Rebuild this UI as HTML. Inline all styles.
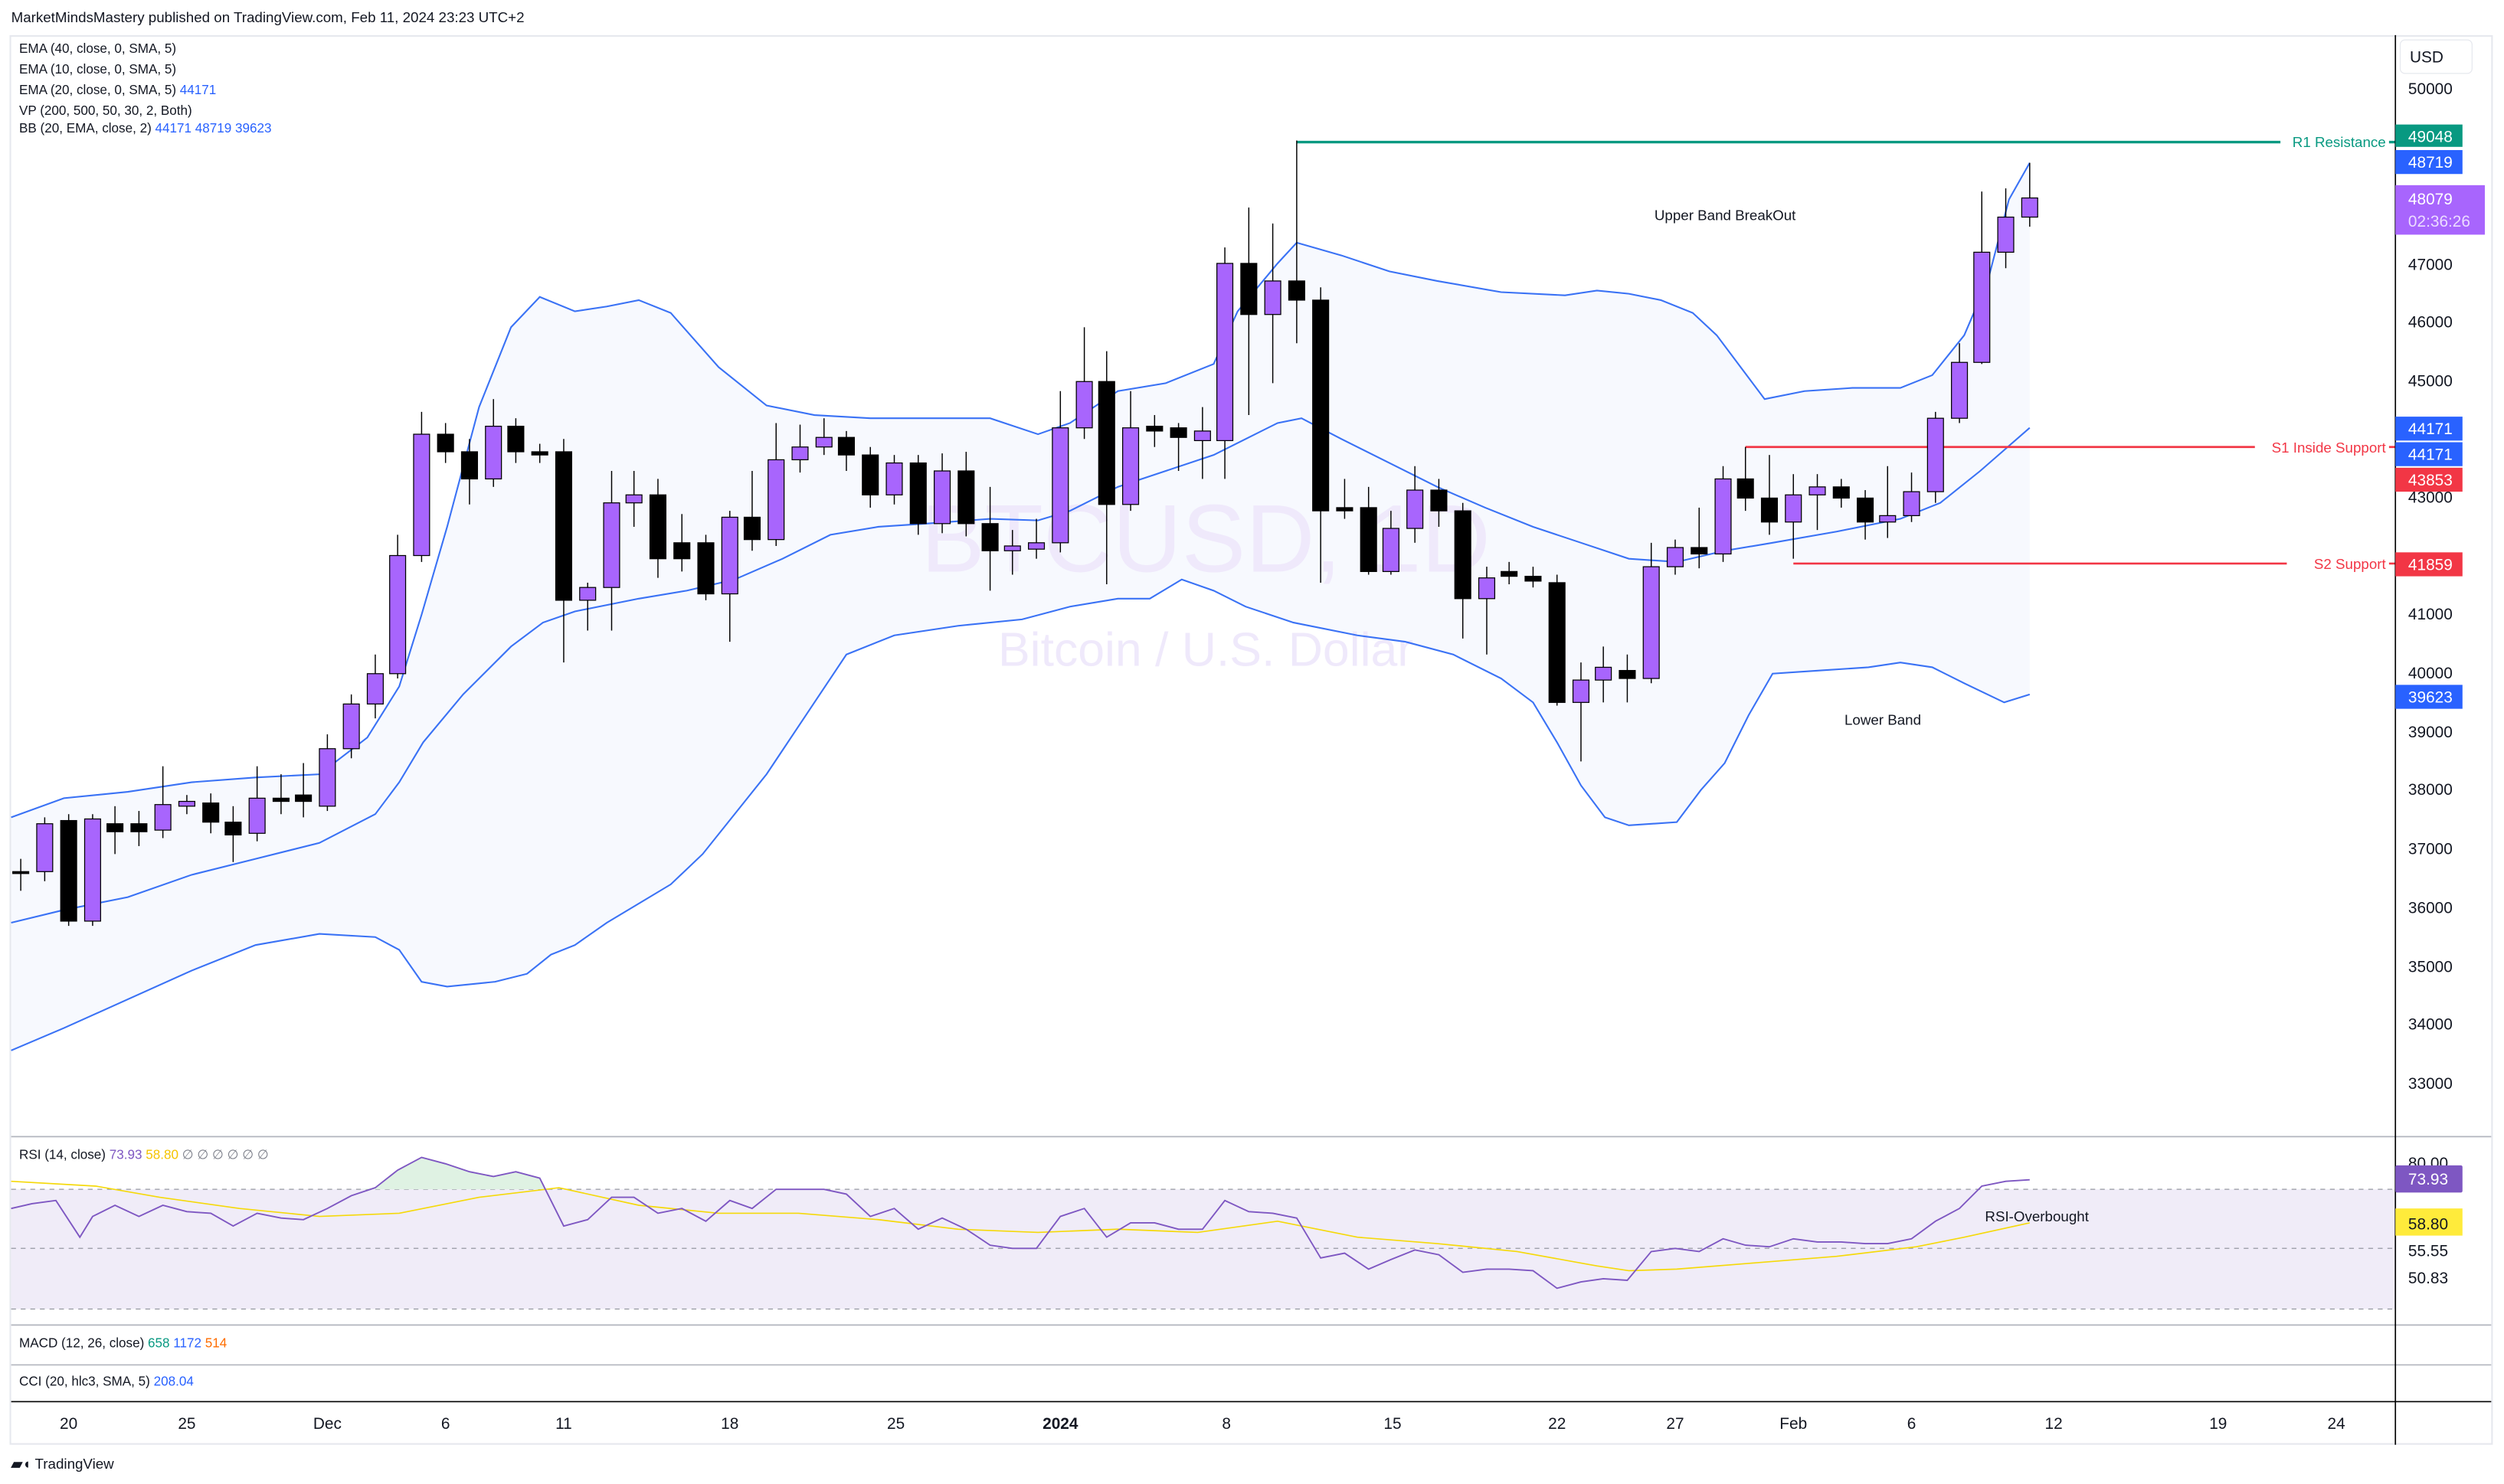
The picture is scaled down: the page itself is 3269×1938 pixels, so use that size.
<!DOCTYPE html>
<html><head><meta charset="utf-8"><style>
html,body{margin:0;padding:0;background:#fff;}
svg{display:block;}
text{font-family:"Liberation Sans",sans-serif;}
</style></head><body>
<svg id="s" width="3269" height="1938" viewBox="0 0 1568 929.6" preserveAspectRatio="none" xmlns="http://www.w3.org/2000/svg">
<rect width="1568" height="929.6" fill="#fff"/>
<text x="7" y="14" font-size="9" fill="#131722">MarketMindsMastery published on TradingView.com, Feb 11, 2024 23:23 UTC+2</text>
<rect x="6.5" y="22.5" width="1554" height="882" fill="#fff" stroke="#e6e8ee" stroke-width="1"/>
<path id="bandfill" fill="#f7f9fe"/>
<text x="755" y="358" font-size="60" fill="#efe9fb" text-anchor="middle">BTCUSD, 1D</text>
<text x="755" y="417" font-size="30" fill="#efe9fb" text-anchor="middle">Bitcoin / U.S. Dollar</text>
<g id="bands" fill="none" stroke="#3a72f5" stroke-width="1"></g>
<line x1="812" y1="89" x2="1500" y2="89" stroke="#089981" stroke-width="1.6"/>
<line x1="1093" y1="280" x2="1500" y2="280" stroke="#f23645" stroke-width="1.3"/>
<line x1="1123" y1="353" x2="1500" y2="353" stroke="#f23645" stroke-width="1.3"/>
<rect x="1428" y="83" width="68" height="12" fill="#fff"/>
<text x="1494" y="92" font-size="9" fill="#089981" text-anchor="end">R1 Resistance</text>
<rect x="1412" y="274" width="84" height="12" fill="#fff"/>
<text x="1494" y="283.5" font-size="9" fill="#f23645" text-anchor="end">S1 Inside Support</text>
<rect x="1432" y="347" width="64" height="12" fill="#fff"/>
<text x="1494" y="356.5" font-size="9" fill="#f23645" text-anchor="end">S2 Support</text>
<g id="candles"></g>
<text x="1036" y="138" font-size="9" fill="#131722">Upper Band BreakOut</text>
<text x="1155" y="454" font-size="9" fill="#131722">Lower Band</text>
<g font-size="8.2" fill="#131722">
<text x="12" y="33">EMA (40, close, 0, SMA, 5)</text>
<text x="12" y="46">EMA (10, close, 0, SMA, 5)</text>
<text x="12" y="59">EMA (20, close, 0, SMA, 5) <tspan fill="#2962ff">44171</tspan></text>
<text x="12" y="72">VP (200, 500, 50, 30, 2, Both)</text>
<text x="12" y="83">BB (20, EMA, close, 2) <tspan fill="#2962ff">44171 48719 39623</tspan></text>
</g>
<line x1="7" y1="712" x2="1560" y2="712" stroke="#b2b5be" stroke-width="0.8"/>
<rect x="7" y="745" width="1493" height="75" fill="#f0ecf8"/>
<line x1="7" y1="745" x2="1500" y2="745" stroke="#9598a1" stroke-width="0.6" stroke-dasharray="3,3"/>
<line x1="7" y1="782" x2="1500" y2="782" stroke="#9598a1" stroke-width="0.6" stroke-dasharray="3,3"/>
<line x1="7" y1="820" x2="1500" y2="820" stroke="#9598a1" stroke-width="0.6" stroke-dasharray="3,3"/>
<path d="M225,745 L235,744 249,733 264,725 279,729 294,734 309,737 323,734 338,738 342,745 Z" fill="#dff2e3"/>
<polyline id="rsima" fill="none" stroke="#f5d90a" stroke-width="0.8"/>
<polyline id="rsi" fill="none" stroke="#7e57c2" stroke-width="0.9"/>
<text x="1243" y="765" font-size="9" fill="#131722">RSI-Overbought</text>
<text x="12" y="726" font-size="8.2" fill="#131722">RSI (14, close) <tspan fill="#7e57c2">73.93</tspan> <tspan fill="#f5c400">58.80</tspan> <tspan fill="#787b86">∅ ∅ ∅ ∅ ∅ ∅</tspan></text>
<line x1="7" y1="830" x2="1560" y2="830" stroke="#b2b5be" stroke-width="0.8"/>
<text x="12" y="844" font-size="8.2" fill="#131722">MACD (12, 26, close) <tspan fill="#089981">658</tspan> <tspan fill="#2962ff">1172</tspan> <tspan fill="#ff6d00">514</tspan></text>
<line x1="7" y1="855" x2="1560" y2="855" stroke="#b2b5be" stroke-width="0.8"/>
<text x="12" y="868" font-size="8.2" fill="#131722">CCI (20, hlc3, SMA, 5) <tspan fill="#2962ff">208.04</tspan></text>
<line x1="7" y1="878" x2="1560" y2="878" stroke="#000" stroke-width="0.8"/>
<line x1="1500" y1="22" x2="1500" y2="905" stroke="#000" stroke-width="0.8"/>
<g font-size="10" fill="#131722" text-anchor="middle">
<text x="43" y="895">20</text><text x="117" y="895">25</text><text x="205" y="895">Dec</text><text x="279" y="895">6</text><text x="353" y="895">11</text><text x="457" y="895">18</text><text x="561" y="895">25</text><text x="664" y="895" font-weight="bold">2024</text><text x="768" y="895">8</text><text x="872" y="895">15</text><text x="975" y="895">22</text><text x="1049" y="895">27</text><text x="1123" y="895">Feb</text><text x="1197" y="895">6</text><text x="1286" y="895">12</text><text x="1389" y="895">19</text><text x="1463" y="895">24</text>
</g>
<rect x="1503" y="25" width="45" height="21" rx="3" fill="#fff" stroke="#e6e8ee" stroke-width="0.6"/>
<text x="1509" y="39" font-size="10" fill="#131722">USD</text>
<g font-size="10" fill="#131722">
<text x="1508" y="59">50000</text><text x="1508" y="169">47000</text><text x="1508" y="205">46000</text><text x="1508" y="242">45000</text><text x="1508" y="388">41000</text><text x="1508" y="425">40000</text><text x="1508" y="462">39000</text><text x="1508" y="498">38000</text><text x="1508" y="535">37000</text><text x="1508" y="572">36000</text><text x="1508" y="609">35000</text><text x="1508" y="645">34000</text><text x="1508" y="682">33000</text><text x="1508" y="315">43000</text>
<text x="1508" y="732">80.00</text><text x="1508" y="787">55.55</text><text x="1508" y="804">50.83</text>
</g>
<g font-size="10" fill="#fff">
<rect x="1500" y="78" width="42" height="14" fill="#089981"/><text x="1508" y="89">49048</text>
<rect x="1500" y="94" width="42" height="15" fill="#2962ff"/><text x="1508" y="105">48719</text>
<rect x="1500" y="116" width="56" height="31" fill="#a865fd"/><text x="1508" y="128">48079</text><text x="1508" y="142" fill="#ecdcff">02:36:26</text>
<rect x="1500" y="261" width="42" height="15" fill="#2962ff"/><text x="1508" y="272">44171</text>
<rect x="1500" y="277" width="42" height="15" fill="#2962ff"/><text x="1508" y="288">44171</text>
<rect x="1500" y="293" width="42" height="15" fill="#f23645"/><text x="1508" y="304">43853</text>
<rect x="1500" y="346" width="42" height="15" fill="#f23645"/><text x="1508" y="357">41859</text>
<rect x="1500" y="429" width="42" height="15" fill="#2962ff"/><text x="1508" y="440">39623</text>
<rect x="1500" y="730" width="42" height="17" rx="1" fill="#7e57c2"/><text x="1508" y="742">73.93</text>
<rect x="1500" y="757" width="42" height="17" fill="#ffeb3b"/><text x="1508" y="770" fill="#131722">58.80</text>
</g>
<text x="7" y="920" font-size="9" fill="#131722" font-weight="bold">▰◖ <tspan font-weight="normal">TradingView</tspan></text>
</svg>
<script>
var NS="http://www.w3.org/2000/svg";
var C=[[13,538,558,546,547,0],[28,512,552,546,516,1],[43,510,580,514,577,0],[58,510,580,577,513,1],[72,505,535,516,521,0],[87,508,530,516,521,0],[102,480,525,520,504,1],[117,498,510,505,502,1],[132,497,522,503,515,0],[146,505,540,515,523,0],[161,480,527,522,500,1],[176,485,510,500,502,0],[190,478,512,498,502,0],[205,460,508,505,469,1],[220,435,475,469,441,1],[235,410,450,441,422,1],[249,335,425,422,348,1],[264,258,352,348,272,1],[279,265,290,272,283,0],[294,275,316,283,300,0],[309,250,305,300,267,1],[323,262,290,267,283,0],[338,278,290,283,285,0],[353,275,415,283,376,0],[368,365,395,376,368,1],[383,295,395,368,315,1],[397,295,330,315,310,1],[412,300,362,310,350,0],[427,322,358,340,350,0],[442,335,376,340,372,0],[457,320,402,372,324,1],[471,295,345,324,338,0],[486,265,342,338,288,1],[501,266,296,288,280,1],[516,262,285,280,274,1],[530,270,295,274,285,0],[545,280,318,285,310,0],[560,285,316,310,290,1],[575,285,335,290,328,0],[590,284,334,328,295,1],[605,283,336,295,328,0],[620,305,370,328,345,0],[634,332,360,345,342,1],[649,325,350,344,340,1],[664,245,346,340,268,1],[679,205,275,268,239,1],[693,220,366,239,316,0],[708,245,320,316,268,1],[723,260,280,267,270,0],[738,265,295,268,274,0],[753,255,300,276,270,1],[767,155,300,276,165,1],[782,130,260,165,197,0],[797,140,240,197,176,1],[812,88,215,176,188,0],[827,180,365,188,320,0],[842,300,325,318,320,0],[857,305,360,318,358,0],[871,320,360,358,331,1],[886,292,340,331,307,1],[901,300,330,307,320,0],[916,315,400,320,375,0],[931,355,410,375,362,1],[945,352,366,358,361,0],[960,355,368,361,364,0],[975,360,442,365,440,0],[990,415,477,440,426,1],[1004,405,440,426,418,1],[1019,410,440,420,425,0],[1034,340,428,425,355,1],[1049,338,360,355,343,1],[1064,318,356,343,347,0],[1079,292,352,347,300,1],[1093,280,320,300,312,0],[1108,285,335,312,327,0],[1123,297,350,327,310,1],[1138,297,332,310,305,1],[1153,300,318,305,312,0],[1168,307,338,312,327,0],[1182,292,337,327,323,1],[1197,296,327,323,308,1],[1212,258,315,308,262,1],[1227,215,265,262,227,1],[1241,120,228,227,158,1],[1256,118,168,158,136,1],[1271,102,142,136,124,1]];
var g=document.getElementById('candles');
C.forEach(function(c){
 var l=document.createElementNS(NS,'line');l.setAttribute('x1',c[0]);l.setAttribute('x2',c[0]);l.setAttribute('y1',c[1]);l.setAttribute('y2',c[2]);l.setAttribute('stroke','#000');l.setAttribute('stroke-width','0.7');g.appendChild(l);
 var t=Math.min(c[3],c[4]),h=Math.max(1.2,Math.abs(c[3]-c[4]));
 var r=document.createElementNS(NS,'rect');r.setAttribute('x',c[0]-5);r.setAttribute('y',t);r.setAttribute('width',10);r.setAttribute('height',h);
 r.setAttribute('fill',c[5]?'#a865fd':'#000');r.setAttribute('stroke','#000');r.setAttribute('stroke-width','0.6');g.appendChild(r);
});
var U=[[7,512],[40,500],[80,496],[120,490],[160,487],[200,485],[230,462],[250,430],[264,385],[280,330],[300,255],[320,205],[338,186],[360,195],[380,192],[400,188],[420,196],[450,230],[480,254],[510,260],[545,262],[580,262],[620,262],[650,272],[670,265],[700,245],[730,240],[760,228],[775,195],[800,165],[812,152],[840,160],[870,170],[900,176],[940,183],[980,185],[1000,182],[1020,184],[1040,188],[1060,196],[1075,210],[1090,230],[1105,250],[1130,245],[1160,243],[1190,243],[1210,235],[1230,210],[1245,175],[1258,125],[1271,102]];
var M=[[7,578],[40,570],[80,562],[120,548],[160,538],[200,528],[235,510],[250,490],[265,465],[290,435],[320,405],[340,390],[360,383],[400,375],[430,370],[460,363],[490,350],[520,335],[550,330],[580,328],[620,325],[650,326],[670,320],[700,305],[730,295],[760,285],[780,275],[800,265],[815,262],[840,275],[870,290],[900,305],[930,318],[960,330],[990,340],[1020,350],[1050,352],[1080,345],[1110,340],[1150,333],[1190,325],[1215,315],[1240,295],[1271,268]];
var L=[[7,658],[40,644],[80,626],[120,608],[160,592],[200,585],[235,587],[250,595],[264,615],[280,618],[310,615],[330,610],[345,598],[360,592],[380,578],[400,566],[420,554],[440,535],[460,510],[480,485],[500,455],[520,425],[530,410],[560,398],[600,392],[640,388],[670,380],[700,375],[720,375],[740,363],[760,370],[780,380],[810,390],[850,398],[880,402],[910,410],[940,425],[960,440],[975,465],[990,492],[1005,512],[1020,517],[1050,515],[1065,495],[1080,478],[1095,448],[1110,422],[1140,420],[1170,418],[1190,415],[1210,418],[1230,428],[1255,440],[1271,435]];
function pts(a){return a.map(function(p){return p[0]+','+p[1];}).join(' ');}
document.getElementById('bandfill').setAttribute('d','M'+pts(U)+' L'+pts(L.slice().reverse())+' Z');
var bg=document.getElementById('bands');
[U,M,L].forEach(function(a){var p=document.createElementNS(NS,'polyline');p.setAttribute('points',pts(a));bg.appendChild(p);});
var R=[[7,757],[20,754],[35,752],[50,775],[58,762],[72,755],[87,762],[102,755],[117,759],[132,760],[146,768],[161,760],[176,763],[190,764],[205,757],[220,749],[235,744],[249,733],[264,725],[279,729],[294,734],[309,737],[323,734],[338,738],[353,768],[368,764],[383,750],[397,750],[412,760],[427,757],[442,765],[457,752],[471,757],[486,745],[501,745],[516,745],[530,748],[545,762],[560,757],[575,770],[590,763],[605,770],[620,780],[634,782],[649,782],[664,762],[679,757],[693,775],[708,766],[723,766],[738,770],[753,770],[767,752],[782,759],[797,760],[812,763],[827,788],[842,785],[857,795],[871,789],[886,783],[901,786],[916,797],[931,795],[945,795],[960,796],[975,807],[990,803],[1004,801],[1019,802],[1034,784],[1049,782],[1064,784],[1079,776],[1093,780],[1108,781],[1123,776],[1138,778],[1153,778],[1168,779],[1182,779],[1197,776],[1212,765],[1227,757],[1241,743],[1256,740],[1271,739]];
var Y=[[7,740],[60,743],[100,750],[150,757],[200,762],[250,760],[300,750],[350,744],[400,755],[450,760],[500,760],[550,764],[600,770],[650,772],[700,770],[750,772],[800,765],[850,775],[900,779],[950,784],[1000,793],[1020,796],[1050,795],[1100,791],[1150,787],[1200,781],[1230,775],[1271,766]];
document.getElementById('rsi').setAttribute('points',pts(R));
document.getElementById('rsima').setAttribute('points',pts(Y));
</script>
</body></html>
